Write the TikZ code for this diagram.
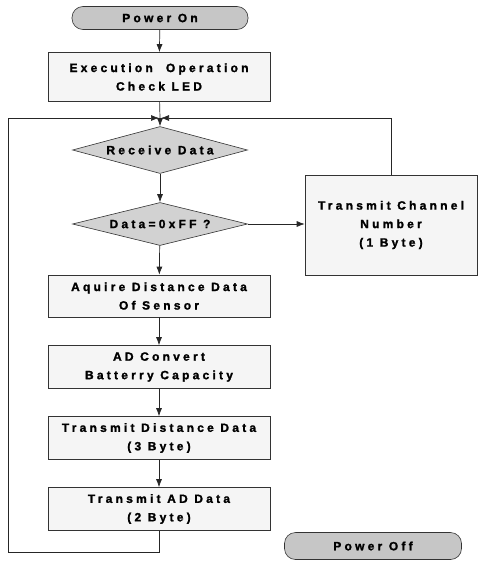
\documentclass[tikz,border=0pt]{standalone}
\usepackage{fontspec}
\newfontfamily\flowfont{Liberation Sans Bold}[LetterSpace=27, FakeBold=1.6]
\usepackage{tikz}
\usetikzlibrary{shapes.geometric, arrows.meta, positioning}

\tikzset{
  flow/.style={draw=black!80, line width=0.6pt, align=center, inner sep=0pt,
    font=\flowfont\fontsize{12}{18.5}\selectfont},
  termbox/.style={flow, rectangle, rounded corners=11pt, fill=gray!45},
  stepbox/.style={flow, rectangle, fill=gray!8},
  testbox/.style={flow, diamond, aspect=3.7, fill=gray!35},
  arr/.style={draw=black!85, line width=0.7pt, -{Latex[length=8pt,width=6pt]}},
  ln/.style={draw=black!85, line width=0.7pt}
}

\begin{document}
\begin{tikzpicture}[x=1pt, y=-1pt]
  \useasboundingbox (0,0) rectangle (479,562);

  % terminals
  \node[termbox, minimum width=176pt, minimum height=23pt] (on) at (160,18) {Power On};
  \node[termbox, minimum width=177pt, minimum height=27pt] (off) at (373,546) {Power Off};

  % main column
  \node[stepbox, minimum width=222pt, minimum height=49pt] (exec) at (159,77) {Execution\ \ Operation\\Check LED};
  \node[testbox, minimum width=175pt, minimum height=47pt] (recv) at (160,150) {Receive Data};
  \node[testbox, minimum width=175pt, minimum height=43pt] (chk) at (160,224) {Data=0xFF ?};
  \node[stepbox, minimum width=222pt, minimum height=42pt] (acq) at (159,296) {Aquire Distance Data\\Of Sensor};
  \node[stepbox, minimum width=222pt, minimum height=43pt] (adc) at (159,367) {AD Convert\\Batterry Capacity};
  \node[stepbox, minimum width=222pt, minimum height=43pt] (txd) at (159,438) {Transmit Distance Data\\(3 Byte)};
  \node[stepbox, minimum width=222pt, minimum height=43pt] (txa) at (159,509) {Transmit AD Data\\(2 Byte)};

  % side branch
  \node[stepbox, minimum width=172pt, minimum height=100pt] (chan) at (391,225) {Transmit Channel\\Number\\(1 Byte)};

  % loop points
  \coordinate (join) at (160,118);
  \coordinate (lb) at (8,552);

  \draw[arr] (on) -- (exec);
  \draw[ln] (exec) -- (join);
  \draw[arr] (join) -- (recv);
  \draw[arr] (recv) -- (chk);
  \draw[arr] (chk) -- (chan.west |- chk);
  \draw[arr] (chk) -- (acq);
  \draw[arr] (acq) -- (adc);
  \draw[arr] (adc) -- (txd);
  \draw[arr] (txd) -- (txa);

  % back to receive
  \draw[arr] (txa.south) |- (lb) |- ([xshift=-1pt]join);
  \draw[arr] (chan.north) |- ([xshift=1pt]join);
\end{tikzpicture}
\end{document}
